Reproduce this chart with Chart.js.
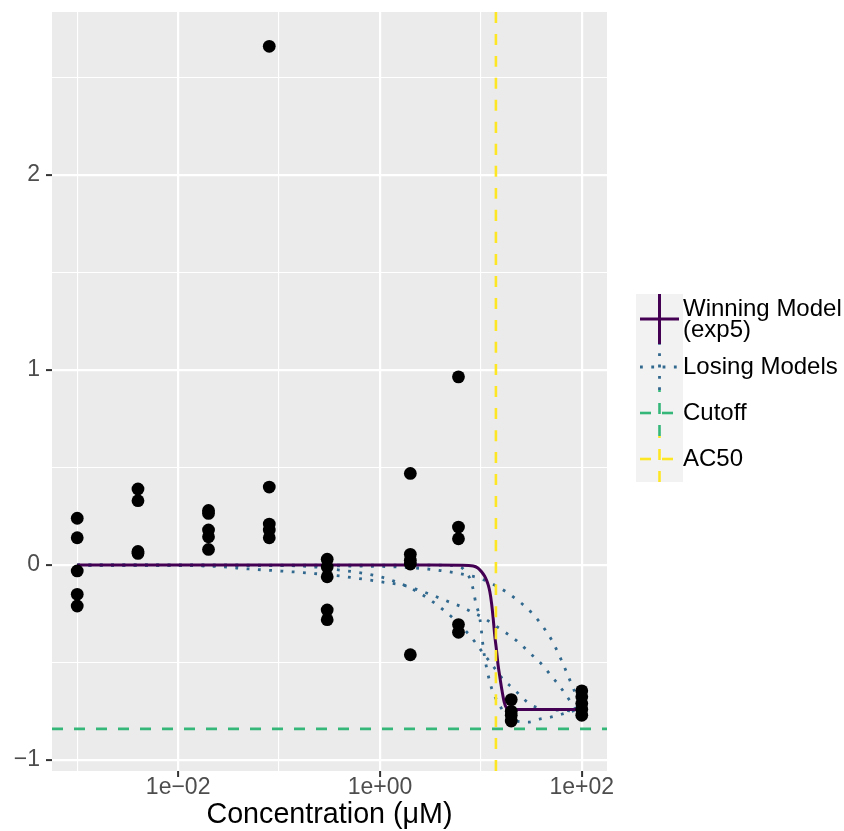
<!DOCTYPE html>
<html>
<head>
<meta charset="utf-8">
<script src="https://cdn.jsdelivr.net/npm/chart.js@4.4.1/dist/chart.umd.min.js"></script>
<style>
  html, body { margin: 0; padding: 0; background: #ffffff; }
  #wrap { width: 844px; height: 831px; }
</style>
</head>
<body>
<div id="wrap"><canvas id="chart"></canvas></div>
<script>
// measured points: one concentration level per group of responses
var concLevels = [0.001, 0.004, 0.02, 0.08, 0.3, 2, 6, 20, 100];
var responses = [
    [0.24, 0.14, -0.03, -0.15, -0.21],
    [0.39, 0.33, 0.07, 0.06],
    [0.28, 0.265, 0.18, 0.145, 0.08],
    [2.66, 0.40, 0.21, 0.18, 0.14],
    [0.03, -0.01, -0.06, -0.23, -0.28],
    [0.47, 0.055, 0.025, 0.005, -0.46],
    [0.965, 0.195, 0.135, -0.305, -0.345],
    [-0.69, -0.75, -0.77, -0.80],
    [-0.645, -0.675, -0.71, -0.74, -0.77]
];

var cutoff = -0.84;
var ac50 = 14.1;

// curves: x as log10(concentration)
var winLogX = [-3, 0.5, 0.8, 0.924, 0.97, 1.007, 1.035, 1.056, 1.075, 1.089, 1.106, 1.122, 1.139, 1.155, 1.17, 1.19, 1.21, 1.23, 1.254, 1.28, 2];
var winY    = [0, 0, -0.001, -0.005, -0.015, -0.034, -0.055, -0.077, -0.105, -0.137, -0.196, -0.273, -0.368, -0.436, -0.51, -0.58, -0.645, -0.70, -0.733, -0.74, -0.74];

var poly1LogX = [-3, 0, 0.4, 0.6, 0.8, 1.0, 1.165, 1.264, 1.353, 1.443, 1.518, 1.591, 1.656, 1.716, 1.765, 1.809, 1.854, 1.898, 1.941, 2];
var poly1Y    = [0, -0.007, -0.017, -0.028, -0.045, -0.07, -0.111, -0.142, -0.176, -0.214, -0.253, -0.299, -0.346, -0.398, -0.45, -0.501, -0.555, -0.61, -0.662, -0.73];

var gentleLogX = [-3, -2, -1.6, -1.3, -1.0, -0.73, -0.4, 0, 0.264, 0.38, 0.488, 0.594, 0.7, 0.809, 0.908, 1.007, 1.198, 1.294, 1.379, 1.462, 1.545, 1.624, 1.693, 1.765, 1.832, 1.888, 1.941, 2];
var gentleY    = [0, -0.002, -0.008, -0.02, -0.03, -0.04, -0.056, -0.085, -0.108, -0.128, -0.148, -0.17, -0.192, -0.214, -0.24, -0.265, -0.33, -0.364, -0.398, -0.44, -0.48, -0.52, -0.566, -0.61, -0.658, -0.70, -0.74, -0.78];

var midLogX = [-3, -1, -0.6, -0.39, -0.17, 0.056, 0.27, 0.46, 0.64, 0.72, 0.88, 0.95, 1.02, 1.096, 1.218, 1.314, 1.393, 1.478, 1.584, 1.8, 2];
var midY    = [0, -0.002, -0.012, -0.026, -0.042, -0.068, -0.11, -0.165, -0.235, -0.27, -0.355, -0.40, -0.45, -0.50, -0.585, -0.63, -0.67, -0.71, -0.735, -0.745, -0.75];

var steepLogX = [-3, 0.6, 0.8, 0.84, 0.9, 0.93, 0.95, 0.983, 1.0, 1.012, 1.025, 1.04, 1.062, 1.089, 1.122, 1.171, 1.25, 1.35, 1.47, 1.58, 1.69, 1.8, 1.9, 2];
var steepY    = [0, 0, -0.01, -0.03, -0.08, -0.14, -0.196, -0.256, -0.31, -0.37, -0.43, -0.48, -0.54, -0.60, -0.655, -0.705, -0.77, -0.80, -0.805, -0.79, -0.78, -0.765, -0.75, -0.74];

var xMin = Math.pow(10, -3.25), xMax = Math.pow(10, 2.25);
var yMin = -1.056, yMax = 2.836;
var xTickExp = [-3, -2, -1, 0, 1, 2];
var yTicks = [-1, -0.5, 0, 0.5, 1, 1.5, 2, 2.5];

var purple = '#440154', blue = '#31688E', green = '#35B779', yellow = '#FDE725';
var fontFamily = '"Liberation Sans", Arial, sans-serif';
var tickFont = { family: fontFamily, size: 23, lineHeight: 1 };

function curve(logx, ys) {
    return logx.map(function (lx, i) { return { x: Math.pow(10, lx), y: ys[i] }; });
}

var points = [];
concLevels.forEach(function (c, i) {
    responses[i].forEach(function (r) { points.push({ x: c, y: r }); });
});

function lineSet(label, data, color, width, dash, order) {
    return {
        label: label, data: data, showLine: true, borderColor: color, borderWidth: width,
        borderDash: dash, borderCapStyle: 'butt', pointRadius: 0, fill: false,
        cubicInterpolationMode: 'monotone', order: order
    };
}

var dotted = [2.8, 8.5];
var dashed = [11, 11];

var datasets = [
    { label: 'points', data: points, pointRadius: 6.4, backgroundColor: '#000000', borderWidth: 0, order: 0 },
    lineSet('AC50', [{ x: ac50, y: yMin }, { x: ac50, y: yMax }], yellow, 2.6, dashed, 1),
    lineSet('Cutoff', [{ x: xMin, y: cutoff }, { x: xMax, y: cutoff }], green, 2.6, dashed, 1),
    lineSet('Winning Model', curve(winLogX, winY), purple, 3, [], 2),
    lineSet('Losing', curve(poly1LogX, poly1Y), blue, 2.8, dotted, 3),
    lineSet('Losing', curve(gentleLogX, gentleY), blue, 2.8, dotted, 3),
    lineSet('Losing', curve(midLogX, midY), blue, 2.8, dotted, 3),
    lineSet('Losing', curve(steepLogX, steepY), blue, 2.8, dotted, 3)
];

function isMajorX(v) { return Math.round(Math.log10(v)) % 2 === 0; }
function isMajorY(v) { return Math.abs(v - Math.round(v)) < 1e-9; }
function minus(s) { return String(s).replace('-', '\u2212'); }

var panelBg = {
    id: 'panelBg',
    beforeDraw: function (chart) {
        var a = chart.chartArea, c = chart.ctx;
        c.save();
        c.fillStyle = '#ffffff';
        c.fillRect(0, 0, chart.width, chart.height);
        c.fillStyle = '#EBEBEB';
        c.fillRect(a.left, a.top, a.right - a.left, a.bottom - a.top);
        c.restore();
    }
};

// ggplot style legend box on the right
var legendItems = [
    { text: ['Winning Model', '(exp5)'], color: purple, dash: [], width: 3, top: 294, bottom: 344 },
    { text: ['Losing Models'], color: blue, dash: dotted, width: 2.8, top: 344, bottom: 390 },
    { text: ['Cutoff'], color: green, dash: dashed, width: 2.6, top: 390, bottom: 436 },
    { text: ['AC50'], color: yellow, dash: dashed, width: 2.6, top: 436, bottom: 482 }
];

var ggLegend = {
    id: 'ggLegend',
    afterDraw: function (chart) {
        var c = chart.ctx;
        var keyL = 636, keyW = 47, cx = 659.5;
        c.save();
        c.fillStyle = '#F2F2F2';
        c.fillRect(keyL, 294, keyW, 188);
        legendItems.forEach(function (it) {
            var cy = (it.top + it.bottom) / 2;
            c.strokeStyle = it.color;
            c.lineWidth = it.width;
            c.lineCap = 'butt';
            c.setLineDash(it.dash);
            c.beginPath();
            c.moveTo(keyL + 4, cy);
            c.lineTo(keyL + keyW - 4, cy);
            c.stroke();
            c.beginPath();
            c.moveTo(cx, it.bottom);
            c.lineTo(cx, it.top);
            c.stroke();
            c.setLineDash([]);
            c.fillStyle = '#000000';
            c.font = '24px ' + fontFamily;
            c.textBaseline = 'middle';
            c.textAlign = 'left';
            if (it.text.length === 2) {
                c.fillText(it.text[0], 683, cy - 10);
                c.fillText(it.text[1], 683, cy + 11);
            } else {
                c.fillText(it.text[0], 683, cy);
            }
        });
        c.restore();
    }
};

new Chart(document.getElementById('chart'), {
    type: 'scatter',
    data: { datasets: datasets },
    plugins: [panelBg, ggLegend],
    options: {
        responsive: true,
        maintainAspectRatio: false,
        animation: false,
        events: [],
        layout: { padding: { left: 0, top: 12, right: 237, bottom: 0 } },
        plugins: { legend: { display: false }, tooltip: { enabled: false } },
        scales: {
            x: {
                type: 'logarithmic',
                min: xMin,
                max: xMax,
                bounds: 'data',
                border: { display: false },
                afterBuildTicks: function (scale) {
                    scale.ticks = xTickExp.map(function (e) { return { value: Math.pow(10, e) }; });
                },
                afterFit: function (scale) {
                    scale.height = 60;
                    scale.paddingLeft = 0;
                    scale.paddingRight = 0;
                },
                grid: {
                    color: '#ffffff',
                    lineWidth: function (ctx) { return ctx.tick && isMajorX(ctx.tick.value) ? 2.2 : 1.1; },
                    tickColor: function (ctx) { return ctx.tick && isMajorX(ctx.tick.value) ? '#333333' : 'rgba(0,0,0,0)'; },
                    tickWidth: 2,
                    tickLength: 6
                },
                ticks: {
                    autoSkip: false,
                    maxRotation: 0,
                    padding: -1,
                    color: '#4D4D4D',
                    font: tickFont,
                    callback: function (v) {
                        var e = Math.round(Math.log10(v));
                        if (e % 2 !== 0) return '';
                        return '1e' + (e < 0 ? '\u2212' : '+') + String(Math.abs(e)).padStart(2, '0');
                    }
                },
                title: {
                    display: true,
                    text: 'Concentration (\u03BCM)',
                    color: '#000000',
                    font: { family: fontFamily, size: 28.7, lineHeight: 1.1 },
                    padding: { top: 0, bottom: 0 }
                }
            },
            y: {
                type: 'linear',
                min: yMin,
                max: yMax,
                border: { display: false },
                afterBuildTicks: function (scale) {
                    scale.ticks = yTicks.map(function (v) { return { value: v }; });
                },
                afterFit: function (scale) {
                    scale.width = 52;
                    scale.paddingTop = 0;
                    scale.paddingBottom = 0;
                },
                grid: {
                    color: '#ffffff',
                    lineWidth: function (ctx) { return ctx.tick && isMajorY(ctx.tick.value) ? 2.2 : 1.1; },
                    tickColor: function (ctx) { return ctx.tick && isMajorY(ctx.tick.value) ? '#333333' : 'rgba(0,0,0,0)'; },
                    tickWidth: 2,
                    tickLength: 6
                },
                ticks: {
                    autoSkip: false,
                    padding: 6,
                    color: '#4D4D4D',
                    font: tickFont,
                    callback: function (v) { return isMajorY(v) ? minus(v) : ''; }
                }
            }
        }
    }
});
</script>
</body>
</html>
